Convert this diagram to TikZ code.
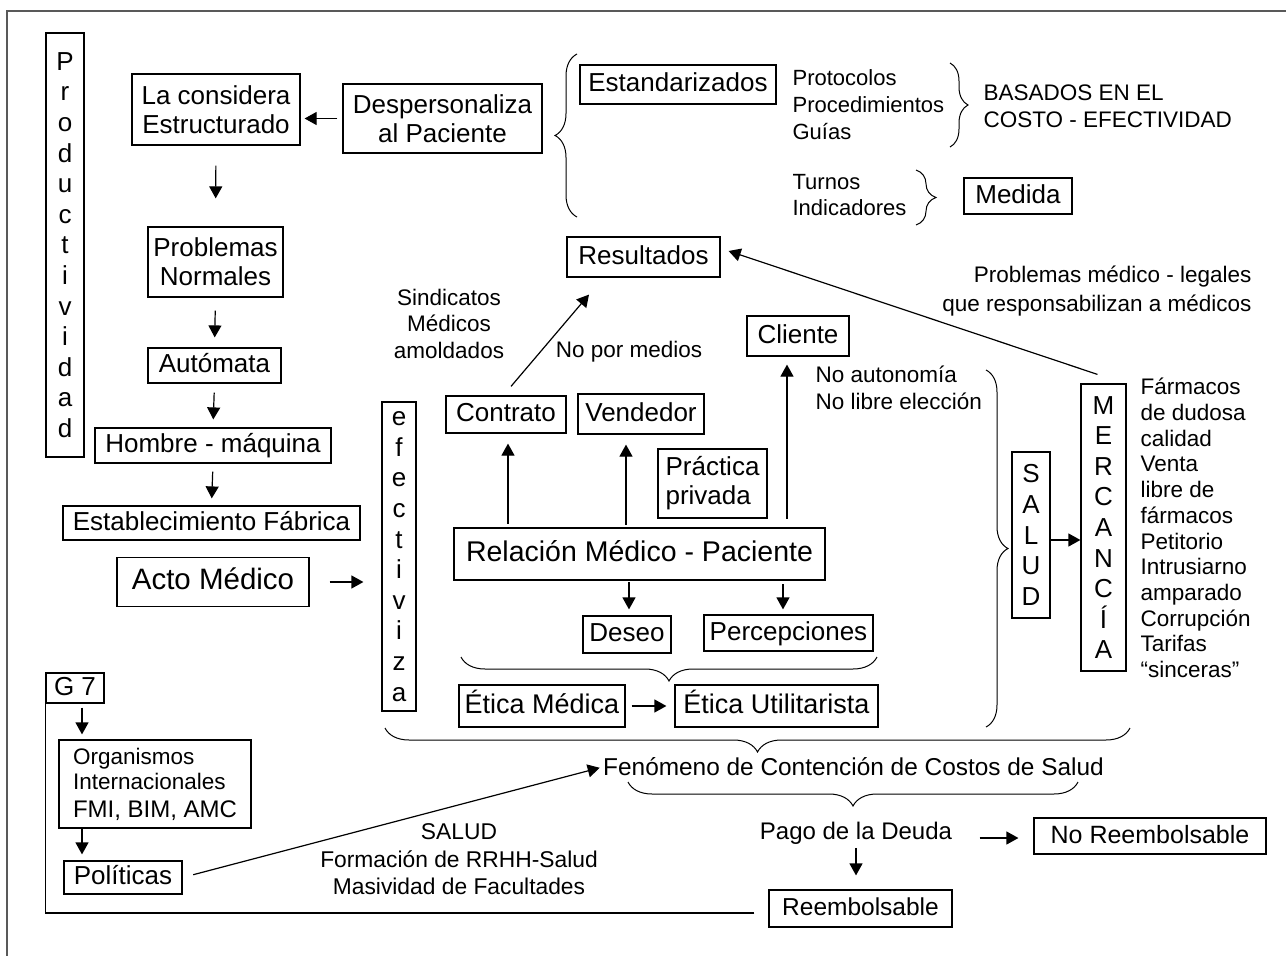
\documentclass[tikz,border=0pt]{standalone}
\usepackage{fontspec}
\setmainfont{Liberation Sans}
\usetikzlibrary{arrows.meta,calc,decorations.pathreplacing}

\newcommand{\bigtxt}{\fontsize{26}{29}\selectfont}
\newcommand{\smtxt}{\fontsize{22.5}{26.5}\selectfont}
\newcommand{\coltxt}{\fontsize{26}{30.6}\selectfont}

\begin{document}
\begin{tikzpicture}[x=1pt,y=-1pt,line width=1.2pt,
  box/.style={draw,inner sep=0pt,font=\bigtxt,text height=18.7pt,text depth=4pt},
  mbox/.style={draw,inner sep=0pt,align=center,font=\bigtxt},
  colbox/.style={draw,inner sep=0pt,align=center,font=\coltxt},
  txt/.style={inner sep=0pt,font=\smtxt},
  arr/.style={-{Triangle[length=12pt,width=13pt]}},
  brc/.style={decorate,decoration={brace,amplitude=#1}}]
\useasboundingbox (0,0) rectangle (1286,956);
\draw[gray!70!black,line width=1.5pt] (7,956) -- (7,11) -- (1286,11);

\node[colbox,minimum width=38,minimum height=424] (prod) at (65,245) {P\\r\\o\\d\\u\\c\\t\\i\\v\\i\\d\\a\\d};
\node[mbox,minimum width=168,minimum height=71] (cons) at (216,109.5) {La considera\\Estructurado};
\node[mbox,minimum width=199,minimum height=69] (desp) at (442.5,118.5) {Despersonaliza\\al Paciente};
\node[mbox,minimum width=135,minimum height=70] (probl) at (215.5,262) {Problemas\\Normales};
\node[box,minimum width=133,minimum height=35] (auto) at (214.5,365.5) {Autómata};
\node[box,minimum width=236,minimum height=35] (homb) at (213,445.5) {Hombre - máquina};
\node[box,minimum width=297,minimum height=34] (estab) at (211.5,523) {Establecimiento Fábrica};
\node[box,font=\fontsize{29.5}{33}\selectfont,minimum width=192,minimum height=49] (acto) at (213,582) {Acto Médico};

\draw[arr,shorten <=5pt,shorten >=4pt] (desp.west) -- (desp.west -| cons.east);
\draw[arr,shorten <=20pt,shorten >=28pt] (cons.south) -- (probl.north);
\draw[arr,shorten <=13pt,shorten >=10pt] (probl.south) -- (auto.north);
\draw[arr,shorten <=9pt,shorten >=8pt] (auto.south) -- (homb.north);
\draw[arr,shorten <=8pt,shorten >=7pt] (homb.south) -- (estab.north);

\draw[brc=22,line width=1pt] (577,217) -- (577,54);
\node[box,minimum width=196,minimum height=39] (estand) at (678,84.5) {Estandarizados};
\node[txt,anchor=west,align=left,font=\fontsize{22}{27}\selectfont] (prot) at (792,105) {Protocolos\\Procedimientos\\Guías};
\draw[brc=18,line width=1pt] (950,63) -- (950,147);
\node[txt,anchor=west,align=left,font=\fontsize{22.5}{27}\selectfont] (basados) at (983,106.5) {BASADOS EN EL\\COSTO - EFECTIVIDAD};
\node[txt,anchor=west,align=left,font=\fontsize{22}{26}\selectfont] (turnos) at (792,195) {Turnos\\Indicadores};
\draw[brc=20,line width=1pt] (916,170) -- (916,225);
\node[box,minimum width=108,minimum height=36] (medida) at (1018,196) {Medida};

\node[box,minimum width=153,minimum height=40] (result) at (643.5,257) {Resultados};
\node[txt,anchor=east,align=right,font=\fontsize{22.5}{29}\selectfont] (legales) at (1252,291) {Problemas médico - legales\\que responsabilizan a médicos};
\node[txt,align=center] (sind) at (449,323.5) {Sindicatos\\Médicos\\amoldados};
\node[txt] (nopor) at (629,352) {No por medios};
\node[box,minimum width=102,minimum height=40] (cliente) at (798,336) {Cliente};
\node[txt,anchor=west,align=left] (noauto) at (815,388) {No autonomía\\No libre elección};

\node[colbox,minimum width=34,minimum height=309] (efect) at (399,556.5) {e\\f\\e\\c\\t\\i\\v\\i\\z\\a};
\node[box,minimum width=120,minimum height=37] (contr) at (506,414.5) {Contrato};
\node[box,minimum width=126,minimum height=40] (vend) at (641,414) {Vendedor};
\node[mbox,align=left,minimum width=109,minimum height=69] (pract) at (712.5,483.5) {Práctica\\privada};
\node[box,font=\fontsize{28.5}{32}\selectfont,minimum width=371,minimum height=52] (relac) at (639.5,554) {Relación Médico - Paciente};
\node[box,minimum width=88,minimum height=37] (deseo) at (627,634.5) {Deseo};
\node[box,minimum width=169,minimum height=36] (percep) at (788.5,633) {Percepciones};
\draw[brc=24,line width=1pt] (877,657) -- (461,657);
\node[box,font=\fontsize{27}{30}\selectfont,minimum width=166,minimum height=42] (eticaM) at (542,706) {Ética Médica};
\node[box,font=\fontsize{27}{30}\selectfont,minimum width=203,minimum height=42] (eticaU) at (776.5,706) {Ética Utilitarista};

\draw[arr,shorten <=20pt,shorten >=18pt] (acto.east) -- (acto.east -| efect.west);
\draw[arr] ($(contr.north)+(5,-9)$) -- ($(result.south)+(-54.5,17)$);
\draw[arr] ($(contr.south)+(2,90)$) -- ($(contr.south)+(2,10)$);
\draw[arr] ($(vend.south)+(-15,90)$) -- ($(vend.south)+(-15,10)$);
\draw[arr] ($(cliente.south)+(-11,162)$) -- ($(cliente.south)+(-11,8)$);
\draw[arr] ($(deseo.north)+(2,-33)$) -- ($(deseo.north)+(2,-6)$);
\draw[arr] ($(percep.north)+(-5.5,-30)$) -- ($(percep.north)+(-5.5,-5)$);
\draw[arr,shorten <=6pt,shorten >=8pt] (eticaM.east) -- (eticaU.west);

\draw[brc=22,line width=1pt] (986,370) -- (986,727);
\node[colbox,minimum width=38,minimum height=166] (salud) at (1031,535) {S\\A\\L\\U\\D};
\node[colbox,minimum width=45,minimum height=287] (merc) at (1103.5,527.5) {M\\E\\R\\C\\A\\N\\C\\Í\\A};
\node[txt,anchor=west,align=left,font=\fontsize{22.5}{25.7}\selectfont] (farm) at (1140,528) {Fármacos\\de dudosa\\calidad\\Venta\\libre de\\fármacos\\Petitorio\\Intrusiarno\\amparado\\Corrupción\\Tarifas\\“sinceras”};
\draw[arr] ([yshift=-5pt]salud.east) -- ([yshift=-5pt]salud.east -| merc.west);
\draw[arr] ($(merc.north)+(-6,-9)$) -- ($(result.east)+(8,-6)$);

\draw[brc=24,line width=1pt] (1130,728) -- (385,728);
\node[txt,font=\fontsize{24.4}{28}\selectfont] (fen) at (853.5,767) {Fenómeno de Contención de Costos de Salud};
\draw[brc=24,line width=1pt] (1078,782) -- (628,782);
\node[txt,font=\fontsize{24}{28}\selectfont] (pago) at (856,833) {Pago de la Deuda};
\node[box,font=\fontsize{25}{28}\selectfont,minimum width=232,minimum height=36] (noreemb) at (1150,836) {No Reembolsable};
\node[box,font=\fontsize{24.5}{28}\selectfont,minimum width=183,minimum height=37] (reemb) at (860.5,908.5) {Reembolsable};
\draw[arr] ($(pago.east)+(27,5)$) -- ($(noreemb.west)+(-15,2)$);
\draw[arr,shorten <=3pt,shorten >=14pt] (pago.south) -- (pago.south |- reemb.north);

\node[box,minimum width=58,minimum height=30] (g7) at (75,688) {G 7};
\node[draw,inner sep=0pt,align=left,font=\fontsize{22.5}{25}\selectfont,minimum width=192,minimum height=88] (org) at (155,784) {Organismos\\Internacionales\\[3pt]{\fontsize{24}{28}\selectfont FMI, BIM, AMC}};
\node[box,minimum width=118,minimum height=33] (pol) at (123,877.5) {Políticas};
\coordinate (gx) at (82,0);
\draw[arr,shorten <=4pt,shorten >=5pt] (g7.south -| gx) -- (org.north -| gx);
\draw[arr,shorten >=6pt] (org.south -| gx) -- (pol.north -| gx);
\draw[arr,shorten <=11pt,shorten >=3pt] (pol.east) -- (fen.west);
\node[txt,align=center,font=\fontsize{22.8}{27.5}\selectfont] (salud2) at (459,859.5) {SALUD\\Formación de RRHH-Salud\\Masividad de Facultades};
\draw ($(reemb.west)+(-14,4.5)$) -| (g7.south west);
\end{tikzpicture}
\end{document}
